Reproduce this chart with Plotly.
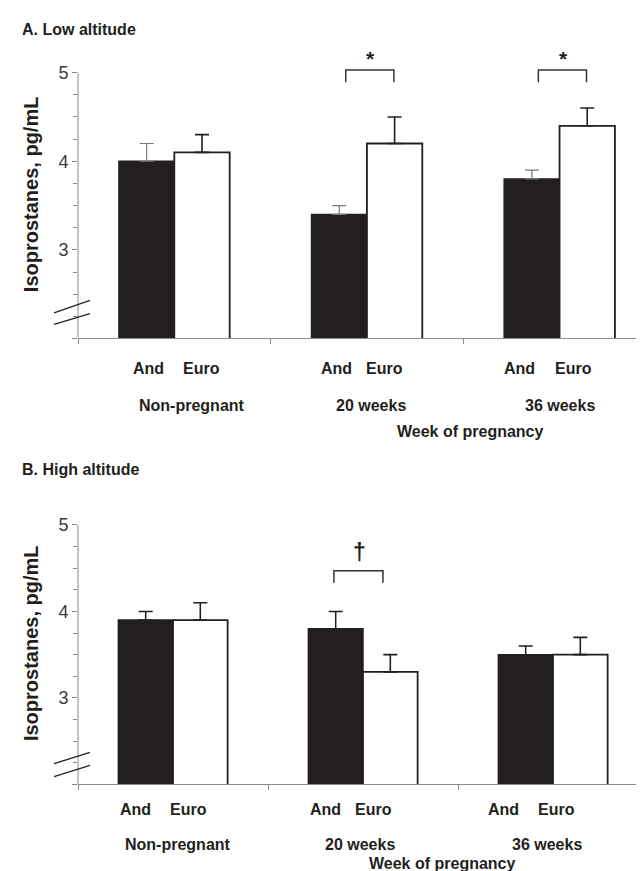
import plotly.graph_objects as go

# ---------------- data ----------------
categories = ["Non-pregnant", "20 weeks", "36 weeks"]
groups = ["And", "Euro"]

low_and = [4.0, 3.4, 3.8]
low_and_err = [0.2, 0.1, 0.1]
low_euro = [4.1, 4.2, 4.4]
low_euro_err = [0.2, 0.3, 0.2]

high_and = [3.9, 3.8, 3.5]
high_and_err = [0.1, 0.2, 0.1]
high_euro = [3.9, 3.3, 3.5]
high_euro_err = [0.2, 0.2, 0.2]

y_tickvals = [2, 3, 4, 5]
y_ticktext = ["", "3", "4", "5"]
y_minor = [2.25, 2.5, 2.75, 3.25, 3.5, 3.75, 4.25, 4.5, 4.75]

panel_titles = ["A. Low altitude", "B. High altitude"]
x_title = "Week of pregnancy"
y_title = "Isoprostanes, pg/mL"

low_sig = [(1, "*"), (2, "*")]
high_sig = [(1, "\u2020")]

# ---------------- style ----------------
W, H = 644, 871
FONT = "Liberation Sans, Arial, sans-serif"
INK = "#231f20"
AXC = "#8c8c8c"


def py(px):
    return 1 - px / H


panels = [
    dict(xa="x", ya="y", xdom=[70 / W, 1.0], ydom=[py(328), py(52)], yr=[2, 5.1], xr=[-0.5, 2.48],
         and_v=low_and, and_e=low_and_err, eu_v=low_euro, eu_e=low_euro_err,
         and_err_col="#7a7a7a", and_err_w=1.2, sig=low_sig, sig_size=21,
         br=[-0.11, 0.14], br_y=[4.89, 5.03], sig_dx=0.02, sig_y=5.16,
         title_y=18, grp_y=358, cat_y=395, xt_y=421, xt_x=1.536, yt_y=183,
         and_dx=[-0.135, -0.16, -0.21], eu_dx=[0.14, 0.09, 0.07], cat_dx=[0.09, 0.02, 0.0],
         brk=[[2.29, 2.43], [2.16, 2.28]]),
    dict(xa="x2", ya="y2", xdom=[70 / W, 640 / W], ydom=[py(776), py(510)], yr=[2, 5.06], xr=[-0.5, 2.5],
         and_v=high_and, and_e=high_and_err, eu_v=high_euro, eu_e=high_euro_err,
         and_err_col=INK, and_err_w=1.5, sig=high_sig, sig_size=23,
         br=[-0.153, 0.105], br_y=[4.33, 4.47], sig_dx=-0.02, sig_y=4.69,
         title_y=460, grp_y=801, cat_y=836, xt_y=855, xt_x=1.42, yt_y=634,
         and_dx=[-0.195, -0.2, -0.26], eu_dx=[0.084, 0.053, 0.016], cat_dx=[0.026, -0.016, -0.03],
         brk=[[2.24, 2.37], [2.09, 2.22]]),
]

fig = go.Figure()
shapes = []
annotations = []

for i, p in enumerate(panels):
    fig.add_trace(go.Bar(
        x=categories, y=p["and_v"], name=groups[0], xaxis=p["xa"], yaxis=p["ya"],
        marker=dict(color=INK, line=dict(color=INK, width=1.5)),
        error_y=dict(type="data", symmetric=False, array=p["and_e"], arrayminus=[0] * 3,
                     color=p["and_err_col"], thickness=p["and_err_w"], width=7),
        showlegend=False))
    fig.add_trace(go.Bar(
        x=categories, y=p["eu_v"], name=groups[1], xaxis=p["xa"], yaxis=p["ya"],
        marker=dict(color="white", line=dict(color=INK, width=1.8)),
        error_y=dict(type="data", symmetric=False, array=p["eu_e"], arrayminus=[0] * 3,
                     color=INK, thickness=1.6, width=7),
        showlegend=False))

    xd = p["xa"] + " domain"
    yd = p["ya"] + " domain"
    span = p["yr"][1] - p["yr"][0]
    # y-axis line from 2 to 5
    shapes.append(dict(type="line", xref=xd, yref=yd, x0=0, x1=0, y0=0,
                       y1=(5 - p["yr"][0]) / span, line=dict(color=AXC, width=1)))
    # axis break marks
    pw = (p["xdom"][1] - p["xdom"][0]) * W
    for lo, hi in p["brk"]:
        shapes.append(dict(type="line", xref=xd, yref=yd, x0=-24 / pw, x1=12 / pw,
                           y0=(lo - 2) / span, y1=(hi - 2) / span,
                           line=dict(color=INK, width=1.3)))
    # significance brackets
    for ci, sym in p["sig"]:
        x0, x1 = ci + p["br"][0], ci + p["br"][1]
        yb, yt = p["br_y"]
        shapes.append(dict(type="path", xref=p["xa"], yref=p["ya"],
                           path=f"M {x0} {yb} L {x0} {yt} L {x1} {yt} L {x1} {yb}",
                           line=dict(color="#333333", width=1.5)))
        annotations.append(dict(text=f"<b>{sym}</b>", x=ci + p["sig_dx"],
                                y=(p["sig_y"] - p["yr"][0]) / span,
                                xref=p["xa"], yref=yd, showarrow=False,
                                font=dict(family=FONT, size=p["sig_size"], color=INK),
                                xanchor="center", yanchor="middle"))
    # panel title
    annotations.append(dict(text=f"<b>{panel_titles[i]}</b>", x=12 / W, y=py(p["title_y"]),
                            xref="paper", yref="paper", xanchor="left", yanchor="middle",
                            showarrow=False, font=dict(family=FONT, size=16, color=INK)))
    # y title
    annotations.append(dict(text=f"<b>{y_title}</b>", x=23 / W, y=py(p["yt_y"]),
                            xref="paper", yref="paper", xanchor="center", yanchor="middle",
                            textangle=-90, showarrow=False,
                            font=dict(family=FONT, size=20, color=INK)))
    # group / category labels
    for ci, cat in enumerate(categories):
        annotations.append(dict(text=f"<b>{groups[0]}</b>", x=ci + p["and_dx"][ci], y=py(p["grp_y"]),
                                xref=p["xa"], yref="paper", showarrow=False,
                                xanchor="center", yanchor="middle",
                                font=dict(family=FONT, size=16, color=INK)))
        annotations.append(dict(text=f"<b>{groups[1]}</b>", x=ci + p["eu_dx"][ci], y=py(p["grp_y"]),
                                xref=p["xa"], yref="paper", showarrow=False,
                                xanchor="center", yanchor="middle",
                                font=dict(family=FONT, size=16, color=INK)))
        annotations.append(dict(text=f"<b>{cat}</b>", x=ci + p["cat_dx"][ci], y=py(p["cat_y"]),
                                xref=p["xa"], yref="paper", showarrow=False,
                                xanchor="center", yanchor="middle",
                                font=dict(family=FONT, size=16, color=INK)))
    annotations.append(dict(text=f"<b>{x_title}</b>", x=p["xt_x"], y=py(p["xt_y"]),
                            xref=p["xa"], yref="paper", showarrow=False,
                            xanchor="center", yanchor="middle",
                            font=dict(family=FONT, size=16, color=INK)))

xaxis_common = dict(type="category", showgrid=False, zeroline=False, showline=True,
                    linecolor=AXC, linewidth=1, ticks="outside", tickson="boundaries",
                    ticklen=5, tickcolor=AXC, showticklabels=False, fixedrange=True)
yaxis_common = dict(showgrid=False, zeroline=False, showline=False, ticks="outside",
                    ticklen=5, tickcolor=AXC, tickvals=y_tickvals, ticktext=y_ticktext,
                    tickfont=dict(family=FONT, size=18, color="#3a3a3a"),
                    minor=dict(tickvals=y_minor, ticks="outside", ticklen=4, tickcolor=AXC),
                    fixedrange=True)

fig.update_layout(
    width=W, height=H,
    margin=dict(l=0, r=0, t=0, b=0),
    paper_bgcolor="white", plot_bgcolor="white",
    barmode="group", bargap=0.425, bargroupgap=0,
    xaxis=dict(xaxis_common, domain=panels[0]["xdom"], range=panels[0]["xr"], anchor="y"),
    yaxis=dict(yaxis_common, domain=panels[0]["ydom"], range=panels[0]["yr"], anchor="x"),
    xaxis2=dict(xaxis_common, domain=panels[1]["xdom"], range=panels[1]["xr"], anchor="y2"),
    yaxis2=dict(yaxis_common, domain=panels[1]["ydom"], range=panels[1]["yr"], anchor="x2"),
    shapes=shapes,
    annotations=annotations,
    showlegend=False,
)

fig.write_html("out.html")
